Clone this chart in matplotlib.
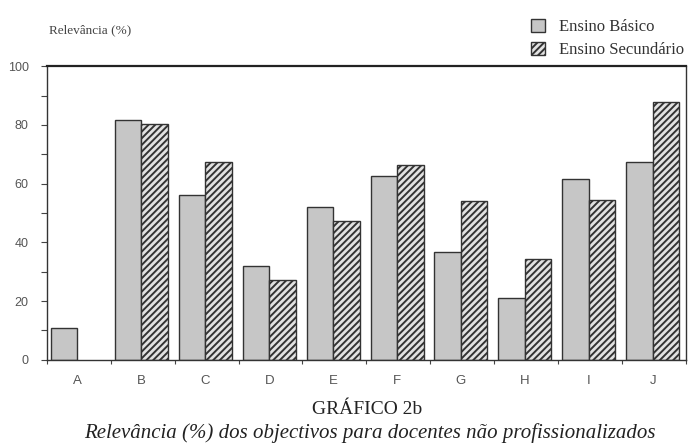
# grafico 2b - relevancia dos objectivos, docentes nao profissionalizados
import numpy as np
import matplotlib.pyplot as plt
from matplotlib.patches import Patch

categorias = ['A', 'B', 'C', 'D', 'E', 'F', 'G', 'H', 'I', 'J']
basico = [10.8, 81.6, 56.1, 32.0, 52.2, 62.5, 36.7, 21.0, 61.7, 67.3]
secundario = [0, 80.2, 67.2, 27.2, 47.2, 66.3, 54.2, 34.2, 54.3, 87.9]

plt.rcParams['hatch.linewidth'] = 1.4
serif = 'Liberation Serif'
sans = 'Liberation Sans'

fig = plt.figure(figsize=(6.88, 4.47), dpi=100)
ax = fig.add_axes([0.068, 0.195, 0.929, 0.657])

x = np.arange(len(categorias))
w = 0.415
ax.bar(x + 0.065 + w/2, basico, w, color='#c6c6c6', edgecolor='#333333', linewidth=1.0)
sec = [v if v > 0 else np.nan for v in secundario]
ax.bar(x + 0.065 + 1.5*w, sec, w, color='#e2e2e2', edgecolor='#333333',
       hatch='/////', linewidth=1.0)

ax.set_xlim(0, 10)
ax.set_ylim(0, 100)
ax.set_yticks(np.arange(0, 101, 20))
ax.set_yticks(np.arange(10, 100, 20), minor=True)
ax.set_xticks(np.arange(0, 11))
ax.set_xticklabels([])
ax.tick_params(axis='y', which='both', direction='out', length=4, width=0.8,
               colors='#444444', labelsize=9, pad=9)
ax.tick_params(axis='x', direction='out', length=3, width=0.8, colors='#444444')
for lab in ax.get_yticklabels():
    lab.set_fontfamily(sans)
    lab.set_color('#555555')
for i, c in enumerate(categorias):
    ax.text(i + 0.48, -5, c, ha='center', va='top', fontsize=9.5,
            family=sans, color='#555555')

for s in ['left', 'bottom', 'right']:
    ax.spines[s].set_linewidth(1.0)
    ax.spines[s].set_color('#333333')
ax.spines['top'].set_linewidth(1.6)
ax.spines['top'].set_color('#222222')

fig.text(0.071, 0.933, 'Relevância (%)', fontsize=9.5, family=serif, color='#444444',
         va='center')

handles = [Patch(facecolor='#c6c6c6', edgecolor='#333333', label='Ensino Básico'),
           Patch(facecolor='#e2e2e2', edgecolor='#333333', hatch='/////',
                 label='Ensino Secundário')]
fig.legend(handles=handles, loc='upper left', bbox_to_anchor=(0.772, 0.958),
           frameon=False, handlelength=0.85, handleheight=0.85, handletextpad=0.85,
           labelspacing=0.38, borderpad=0, borderaxespad=0,
           prop={'family': serif, 'size': 12}, labelcolor='#333333')

fig.text(0.533, 0.083, 'GRÁFICO 2b', ha='center', va='center', fontsize=14,
         family=serif, color='#222222')
fig.text(0.538, 0.031, 'Relevância (%) dos objectivos para docentes não profissionalizados',
         ha='center', va='center', fontsize=15, family=serif, style='italic',
         color='#222222')

fig.savefig('out.png', dpi=100)
